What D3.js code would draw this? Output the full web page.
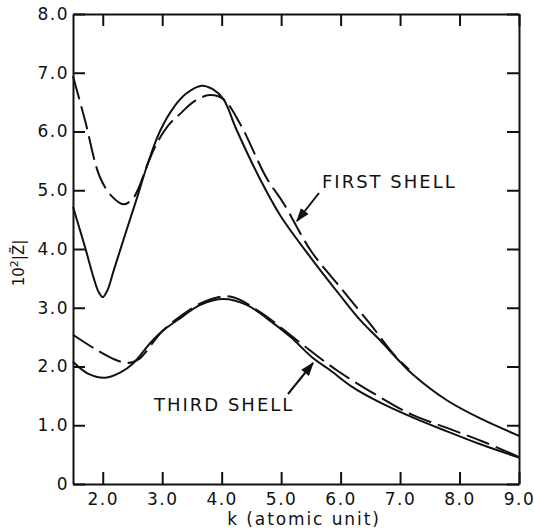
<!DOCTYPE html>
<html>
<head>
<meta charset="utf-8">
<script src="https://cdn.jsdelivr.net/npm/d3@7"></script>
<style>
body { margin: 0; background: #fff; }
text { font-family: "DejaVu Sans", sans-serif; fill: #111; }
</style>
</head>
<body>
<div id="chart"></div>
<script>
var width = 534,
    height = 531;

// first shell, solid
var kFirstSolid = [1.5, 1.7, 1.85, 1.93, 2.0, 2.08, 2.18, 2.4, 2.57, 2.74, 2.96, 3.2, 3.41, 3.66, 3.85, 4.03, 4.25, 4.64, 4.98, 5.5, 6.0, 6.33, 6.66, 7.0, 7.22, 7.78, 8.34, 9.0];
var vFirstSolid = [4.72, 4.04, 3.5, 3.27, 3.18, 3.3, 3.62, 4.32, 4.85, 5.4, 6.0, 6.42, 6.65, 6.78, 6.72, 6.55, 6.03, 5.2, 4.58, 3.85, 3.2, 2.79, 2.45, 2.08, 1.86, 1.43, 1.12, 0.82];
// first shell, dashed
var kFirstDash = [1.5, 1.7, 1.95, 2.15, 2.35, 2.5, 2.6, 2.75, 2.91, 3.1, 3.3, 3.55, 3.8, 4.03, 4.3, 4.76, 5.04, 5.5, 6.0, 6.5, 6.9, 7.15];
var vFirstDash = [6.94, 6.2, 5.23, 4.9, 4.76, 4.85, 5.03, 5.43, 5.8, 6.1, 6.3, 6.52, 6.62, 6.55, 6.15, 5.2, 4.78, 3.97, 3.34, 2.72, 2.2, 1.95];
// third shell, solid
var kThirdSolid = [1.5, 1.75, 2.04, 2.3, 2.51, 2.8, 3.0, 3.3, 3.64, 4.03, 4.42, 4.76, 5.15, 5.54, 5.82, 6.2, 6.66, 7.22, 7.78, 8.34, 9.0];
var vThirdSolid = [2.08, 1.88, 1.81, 1.9, 2.05, 2.4, 2.6, 2.82, 3.05, 3.15, 3.05, 2.82, 2.51, 2.14, 1.94, 1.65, 1.39, 1.13, 0.9, 0.68, 0.45];
// third shell, dashed
var kThirdDash = [1.5, 1.9, 2.2, 2.42, 2.6, 3.0, 3.3, 3.7, 4.14, 4.64, 5.26, 5.93, 6.61, 7.2, 7.8, 8.4, 9.0];
var vThirdDash = [2.54, 2.28, 2.12, 2.06, 2.12, 2.6, 2.85, 3.1, 3.19, 2.93, 2.45, 1.94, 1.51, 1.18, 0.95, 0.72, 0.46];

var xTicks = [2, 3, 4, 5, 6, 7, 8, 9];
var yTicks = [0, 1, 2, 3, 4, 5, 6, 7, 8];

var x = d3.scaleLinear().domain([1.5, 9]).range([73, 519]);
var y = d3.scaleLinear().domain([0, 8]).range([484, 14]);

var svg = d3.select("#chart")
    .append("svg")
    .attr("width", width)
    .attr("height", height);

function fmt(d) { return d === 0 ? "0" : d3.format(".1f")(d); }

/* axes, ticks pointing inward */
var axBottom = svg.append("g")
    .attr("transform", "translate(0," + y(0) + ")")
    .call(d3.axisBottom(x).tickValues(xTicks).tickFormat(fmt).tickSizeInner(-12).tickSizeOuter(0).tickPadding(9));
var axTop = svg.append("g")
    .attr("transform", "translate(0," + y(8) + ")")
    .call(d3.axisTop(x).tickValues(xTicks).tickFormat("").tickSizeInner(-12).tickSizeOuter(0));
var axLeft = svg.append("g")
    .attr("transform", "translate(" + x(1.5) + ",0)")
    .call(d3.axisLeft(y).tickValues(yTicks).tickFormat(fmt).tickSizeInner(-12).tickSizeOuter(0).tickPadding(4));
var axRight = svg.append("g")
    .attr("transform", "translate(" + x(9) + ",0)")
    .call(d3.axisRight(y).tickValues(yTicks).tickFormat("").tickSizeInner(-12).tickSizeOuter(0));

[axBottom, axTop, axLeft, axRight].forEach(function(g) {
  g.select(".domain").attr("stroke", "#111").attr("stroke-width", 2);
  g.selectAll(".tick line").attr("stroke", "#111").attr("stroke-width", 2);
  g.selectAll(".tick text")
    .style("font-family", "DejaVu Sans, sans-serif")
    .style("font-size", "17px")
    .style("letter-spacing", "1.5px")
    .attr("fill", "#111");
});

/* curves */
var line = d3.line()
    .x(function(d) { return x(d[0]); })
    .y(function(d) { return y(d[1]); })
    .curve(d3.curveCatmullRom.alpha(0.5));

function pairs(ks, vs) { return ks.map(function(k, i) { return [k, vs[i]]; }); }

var series = [
  { data: pairs(kFirstSolid, vFirstSolid), dash: null },
  { data: pairs(kFirstDash, vFirstDash), dash: "24,7" },
  { data: pairs(kThirdSolid, vThirdSolid), dash: null },
  { data: pairs(kThirdDash, vThirdDash), dash: "24,7" }
];

svg.selectAll("path.curve")
    .data(series)
    .enter().append("path")
    .attr("class", "curve")
    .attr("d", function(d) { return line(d.data); })
    .attr("fill", "none")
    .attr("stroke", "#111")
    .attr("stroke-width", 2)
    .attr("stroke-dasharray", function(d) { return d.dash; });

/* labels with arrows */
svg.append("defs").append("marker")
    .attr("id", "arrow")
    .attr("viewBox", "0 0 10 10")
    .attr("refX", 9)
    .attr("refY", 5)
    .attr("markerWidth", 7)
    .attr("markerHeight", 7)
    .attr("orient", "auto")
    .append("path")
    .attr("d", "M0,1.5L10,5L0,8.5Z")
    .attr("fill", "#111");

svg.append("text")
    .attr("x", 322).attr("y", 188)
    .style("font-size", "18px")
    .style("letter-spacing", "2px")
    .text("FIRST SHELL");
svg.append("line")
    .attr("x1", 319).attr("y1", 193)
    .attr("x2", 297).attr("y2", 221)
    .attr("stroke", "#111").attr("stroke-width", 2)
    .attr("marker-end", "url(#arrow)");

svg.append("text")
    .attr("x", 154).attr("y", 411)
    .style("font-size", "18px")
    .style("letter-spacing", "2px")
    .text("THIRD SHELL");
svg.append("line")
    .attr("x1", 288).attr("y1", 394)
    .attr("x2", 313).attr("y2", 363)
    .attr("stroke", "#111").attr("stroke-width", 2)
    .attr("marker-end", "url(#arrow)");

/* axis titles */
svg.append("text")
    .attr("x", 304).attr("y", 525)
    .attr("text-anchor", "middle")
    .style("font-size", "17px")
    .style("letter-spacing", "1.9px")
    .text("k (atomic unit)");

var yl = svg.append("text")
    .attr("transform", "translate(24,263) rotate(-90)")
    .attr("text-anchor", "middle")
    .style("font-size", "15px");
yl.append("tspan").text("10");
yl.append("tspan").attr("dy", -6).style("font-size", "11px").text("2");
yl.append("tspan").attr("dy", 6).text("|Z\u0303|");
</script>
</body>
</html>
